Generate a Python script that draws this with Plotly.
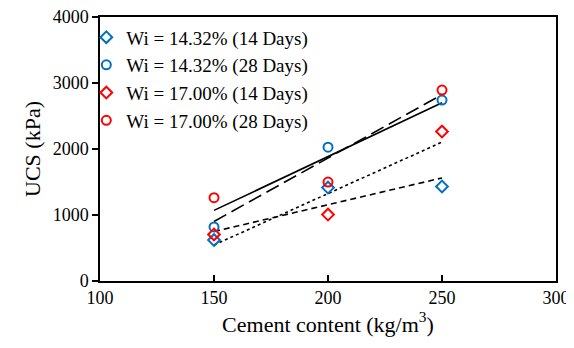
import numpy as np
import plotly.graph_objects as go

cement = [150, 200, 250]
wi1432_14d = [620, 1415, 1432]
wi1432_28d = [820, 2028, 2742]
wi1700_14d = [705, 1006, 2264]
wi1700_28d = [1263, 1499, 2893]

names = ["Wi = 14.32% (14 Days)", "Wi = 14.32% (28 Days)",
         "Wi = 17.00% (14 Days)", "Wi = 17.00% (28 Days)"]
series = [wi1432_14d, wi1432_28d, wi1700_14d, wi1700_28d]
colors = ["#0070C0", "#0070C0", "#FF0000", "#FF0000"]
symbols = ["diamond-open", "circle-open", "diamond-open", "circle-open"]
dashes = ["6px,4px", "14px,6px", "dot", "solid"]

FONT = "Liberation Serif, Times New Roman, serif"
fig = go.Figure()

# trendlines (linear fits), not in legend
for vals, d in zip(series, dashes):
    k, b = np.polyfit(cement, vals, 1)
    xs = [cement[0], cement[-1]]
    fig.add_trace(go.Scatter(x=xs, y=[k * x + b for x in xs], mode="lines",
                             line=dict(color="black", width=1.6, dash=d),
                             showlegend=False, hoverinfo="skip"))

for vals, n, c, s in zip(series, names, colors, symbols):
    fig.add_trace(go.Scatter(x=cement, y=vals, mode="markers", name=n,
                             marker=dict(symbol=s, size=9, color=c,
                                         line=dict(color=c, width=2))))

fig.update_layout(
    width=574, height=348,
    margin=dict(l=92, r=26, t=9, b=75, autoexpand=False),
    paper_bgcolor="white", plot_bgcolor="white",
    font=dict(family=FONT, size=18, color="black"),
    legend=dict(x=-0.03, y=0.995, xanchor="left", yanchor="top",
                bgcolor="rgba(0,0,0,0)", font=dict(size=19), itemwidth=30,
                tracegroupgap=0),
    xaxis=dict(range=[100, 300], dtick=50, ticks="inside", ticklen=6,
               tickwidth=1.5, tickcolor="black", showline=True, linecolor="black",
               linewidth=1.5, mirror=True, showgrid=False, zeroline=False,
               ticklabeloverflow="allow", automargin=False,
               title=dict(text="Cement content (kg/m<sup>3</sup>)", standoff=4),
               tickfont=dict(size=18)),
    yaxis=dict(range=[0, 4000], dtick=1000, ticks="outside", ticklen=6,
               tickwidth=1.5, tickcolor="black", showline=True, linecolor="black",
               linewidth=1.5, mirror=True, showgrid=False, zeroline=False,
               ticklabeloverflow="allow", automargin=False,
               title=dict(text="UCS (kPa)", standoff=6), tickfont=dict(size=18)),
)

fig.write_html("out.html")
